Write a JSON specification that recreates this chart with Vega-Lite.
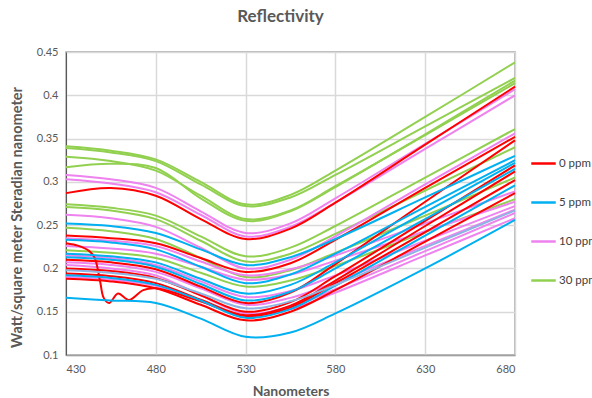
{
"$schema": "https://vega.github.io/schema/vega-lite/v6.json",
"width": 449, "height": 303,
"autosize": "none",
"padding": {"left": 66, "top": 52, "right": 77, "bottom": 43},
"background": "white",
"config": {"font": "Lato", "view": {"stroke": "#a0a0a0", "strokeWidth": 1.5}},
"title": {"text": "Reflectivity", "fontSize": 17, "fontWeight": "bold", "color": "#595959", "offset": 20, "dx": -10},
"data": {"values": [
{"s":"G1","c":"30 ppm","x":430,"y":0.341},{"s":"G1","c":"30 ppm","x":455,"y":0.336},{"s":"G1","c":"30 ppm","x":480,"y":0.326},{"s":"G1","c":"30 ppm","x":505,"y":0.300},{"s":"G1","c":"30 ppm","x":530,"y":0.274},{"s":"G1","c":"30 ppm","x":555,"y":0.285},{"s":"G1","c":"30 ppm","x":580,"y":0.313},{"s":"G1","c":"30 ppm","x":630,"y":0.375},{"s":"G1","c":"30 ppm","x":680,"y":0.438},
{"s":"G2","c":"30 ppm","x":430,"y":0.339},{"s":"G2","c":"30 ppm","x":455,"y":0.334},{"s":"G2","c":"30 ppm","x":480,"y":0.324},{"s":"G2","c":"30 ppm","x":505,"y":0.297},{"s":"G2","c":"30 ppm","x":530,"y":0.272},{"s":"G2","c":"30 ppm","x":555,"y":0.282},{"s":"G2","c":"30 ppm","x":580,"y":0.308},{"s":"G2","c":"30 ppm","x":630,"y":0.364},{"s":"G2","c":"30 ppm","x":680,"y":0.420},
{"s":"G3","c":"30 ppm","x":430,"y":0.329},{"s":"G3","c":"30 ppm","x":455,"y":0.324},{"s":"G3","c":"30 ppm","x":480,"y":0.313},{"s":"G3","c":"30 ppm","x":505,"y":0.284},{"s":"G3","c":"30 ppm","x":530,"y":0.257},{"s":"G3","c":"30 ppm","x":555,"y":0.267},{"s":"G3","c":"30 ppm","x":580,"y":0.295},{"s":"G3","c":"30 ppm","x":630,"y":0.354},{"s":"G3","c":"30 ppm","x":680,"y":0.414},
{"s":"G4","c":"30 ppm","x":430,"y":0.317},{"s":"G4","c":"30 ppm","x":455,"y":0.321},{"s":"G4","c":"30 ppm","x":480,"y":0.316},{"s":"G4","c":"30 ppm","x":505,"y":0.281},{"s":"G4","c":"30 ppm","x":530,"y":0.255},{"s":"G4","c":"30 ppm","x":555,"y":0.266},{"s":"G4","c":"30 ppm","x":580,"y":0.294},{"s":"G4","c":"30 ppm","x":630,"y":0.355},{"s":"G4","c":"30 ppm","x":680,"y":0.417},
{"s":"G5","c":"30 ppm","x":430,"y":0.274},{"s":"G5","c":"30 ppm","x":455,"y":0.270},{"s":"G5","c":"30 ppm","x":480,"y":0.261},{"s":"G5","c":"30 ppm","x":505,"y":0.237},{"s":"G5","c":"30 ppm","x":530,"y":0.214},{"s":"G5","c":"30 ppm","x":555,"y":0.224},{"s":"G5","c":"30 ppm","x":580,"y":0.249},{"s":"G5","c":"30 ppm","x":630,"y":0.305},{"s":"G5","c":"30 ppm","x":680,"y":0.361},
{"s":"G6","c":"30 ppm","x":430,"y":0.271},{"s":"G6","c":"30 ppm","x":455,"y":0.267},{"s":"G6","c":"30 ppm","x":480,"y":0.257},{"s":"G6","c":"30 ppm","x":505,"y":0.232},{"s":"G6","c":"30 ppm","x":530,"y":0.208},{"s":"G6","c":"30 ppm","x":555,"y":0.217},{"s":"G6","c":"30 ppm","x":580,"y":0.240},{"s":"G6","c":"30 ppm","x":630,"y":0.290},{"s":"G6","c":"30 ppm","x":680,"y":0.340},
{"s":"G7","c":"30 ppm","x":430,"y":0.247},{"s":"G7","c":"30 ppm","x":455,"y":0.243},{"s":"G7","c":"30 ppm","x":480,"y":0.234},{"s":"G7","c":"30 ppm","x":505,"y":0.212},{"s":"G7","c":"30 ppm","x":530,"y":0.190},{"s":"G7","c":"30 ppm","x":555,"y":0.198},{"s":"G7","c":"30 ppm","x":580,"y":0.218},{"s":"G7","c":"30 ppm","x":630,"y":0.261},{"s":"G7","c":"30 ppm","x":680,"y":0.305},
{"s":"G8","c":"30 ppm","x":430,"y":0.221},{"s":"G8","c":"30 ppm","x":455,"y":0.218},{"s":"G8","c":"30 ppm","x":480,"y":0.212},{"s":"G8","c":"30 ppm","x":505,"y":0.195},{"s":"G8","c":"30 ppm","x":530,"y":0.179},{"s":"G8","c":"30 ppm","x":555,"y":0.186},{"s":"G8","c":"30 ppm","x":580,"y":0.203},{"s":"G8","c":"30 ppm","x":630,"y":0.242},{"s":"G8","c":"30 ppm","x":680,"y":0.280},
{"s":"P1","c":"10 ppm","x":430,"y":0.308},{"s":"P1","c":"10 ppm","x":455,"y":0.303},{"s":"P1","c":"10 ppm","x":480,"y":0.293},{"s":"P1","c":"10 ppm","x":505,"y":0.266},{"s":"P1","c":"10 ppm","x":530,"y":0.241},{"s":"P1","c":"10 ppm","x":555,"y":0.252},{"s":"P1","c":"10 ppm","x":580,"y":0.281},{"s":"P1","c":"10 ppm","x":630,"y":0.344},{"s":"P1","c":"10 ppm","x":680,"y":0.407},
{"s":"P2","c":"10 ppm","x":430,"y":0.303},{"s":"P2","c":"10 ppm","x":455,"y":0.298},{"s":"P2","c":"10 ppm","x":480,"y":0.288},{"s":"P2","c":"10 ppm","x":505,"y":0.262},{"s":"P2","c":"10 ppm","x":530,"y":0.237},{"s":"P2","c":"10 ppm","x":555,"y":0.248},{"s":"P2","c":"10 ppm","x":580,"y":0.276},{"s":"P2","c":"10 ppm","x":630,"y":0.338},{"s":"P2","c":"10 ppm","x":680,"y":0.400},
{"s":"P3","c":"10 ppm","x":430,"y":0.262},{"s":"P3","c":"10 ppm","x":455,"y":0.258},{"s":"P3","c":"10 ppm","x":480,"y":0.248},{"s":"P3","c":"10 ppm","x":505,"y":0.224},{"s":"P3","c":"10 ppm","x":530,"y":0.200},{"s":"P3","c":"10 ppm","x":555,"y":0.210},{"s":"P3","c":"10 ppm","x":580,"y":0.237},{"s":"P3","c":"10 ppm","x":630,"y":0.297},{"s":"P3","c":"10 ppm","x":680,"y":0.356},
{"s":"P4","c":"10 ppm","x":430,"y":0.235},{"s":"P4","c":"10 ppm","x":455,"y":0.232},{"s":"P4","c":"10 ppm","x":480,"y":0.226},{"s":"P4","c":"10 ppm","x":505,"y":0.208},{"s":"P4","c":"10 ppm","x":530,"y":0.192},{"s":"P4","c":"10 ppm","x":555,"y":0.199},{"s":"P4","c":"10 ppm","x":580,"y":0.215},{"s":"P4","c":"10 ppm","x":630,"y":0.252},{"s":"P4","c":"10 ppm","x":680,"y":0.289},
{"s":"P5","c":"10 ppm","x":430,"y":0.226},{"s":"P5","c":"10 ppm","x":455,"y":0.223},{"s":"P5","c":"10 ppm","x":480,"y":0.217},{"s":"P5","c":"10 ppm","x":505,"y":0.202},{"s":"P5","c":"10 ppm","x":530,"y":0.187},{"s":"P5","c":"10 ppm","x":555,"y":0.193},{"s":"P5","c":"10 ppm","x":580,"y":0.209},{"s":"P5","c":"10 ppm","x":630,"y":0.243},{"s":"P5","c":"10 ppm","x":680,"y":0.277},
{"s":"P6","c":"10 ppm","x":430,"y":0.215},{"s":"P6","c":"10 ppm","x":455,"y":0.212},{"s":"P6","c":"10 ppm","x":480,"y":0.204},{"s":"P6","c":"10 ppm","x":505,"y":0.185},{"s":"P6","c":"10 ppm","x":530,"y":0.167},{"s":"P6","c":"10 ppm","x":555,"y":0.174},{"s":"P6","c":"10 ppm","x":580,"y":0.192},{"s":"P6","c":"10 ppm","x":630,"y":0.232},{"s":"P6","c":"10 ppm","x":680,"y":0.272},
{"s":"P7","c":"10 ppm","x":430,"y":0.207},{"s":"P7","c":"10 ppm","x":455,"y":0.204},{"s":"P7","c":"10 ppm","x":480,"y":0.196},{"s":"P7","c":"10 ppm","x":505,"y":0.177},{"s":"P7","c":"10 ppm","x":530,"y":0.158},{"s":"P7","c":"10 ppm","x":555,"y":0.166},{"s":"P7","c":"10 ppm","x":580,"y":0.184},{"s":"P7","c":"10 ppm","x":630,"y":0.226},{"s":"P7","c":"10 ppm","x":680,"y":0.268},
{"s":"P8","c":"10 ppm","x":430,"y":0.204},{"s":"P8","c":"10 ppm","x":455,"y":0.200},{"s":"P8","c":"10 ppm","x":480,"y":0.192},{"s":"P8","c":"10 ppm","x":505,"y":0.169},{"s":"P8","c":"10 ppm","x":530,"y":0.148},{"s":"P8","c":"10 ppm","x":555,"y":0.156},{"s":"P8","c":"10 ppm","x":580,"y":0.176},{"s":"P8","c":"10 ppm","x":630,"y":0.220},{"s":"P8","c":"10 ppm","x":680,"y":0.264},
{"s":"P9","c":"10 ppm","x":430,"y":0.190},{"s":"P9","c":"10 ppm","x":455,"y":0.187},{"s":"P9","c":"10 ppm","x":480,"y":0.180},{"s":"P9","c":"10 ppm","x":505,"y":0.162},{"s":"P9","c":"10 ppm","x":530,"y":0.145},{"s":"P9","c":"10 ppm","x":555,"y":0.153},{"s":"P9","c":"10 ppm","x":580,"y":0.172},{"s":"P9","c":"10 ppm","x":630,"y":0.215},{"s":"P9","c":"10 ppm","x":680,"y":0.258},
{"s":"R1","c":"0 ppm","x":430,"y":0.287},{"s":"R1","c":"0 ppm","x":455,"y":0.293},{"s":"R1","c":"0 ppm","x":480,"y":0.284},{"s":"R1","c":"0 ppm","x":505,"y":0.257},{"s":"R1","c":"0 ppm","x":530,"y":0.234},{"s":"R1","c":"0 ppm","x":555,"y":0.246},{"s":"R1","c":"0 ppm","x":580,"y":0.276},{"s":"R1","c":"0 ppm","x":630,"y":0.343},{"s":"R1","c":"0 ppm","x":680,"y":0.410},
{"s":"R2","c":"0 ppm","x":430,"y":0.238},{"s":"R2","c":"0 ppm","x":455,"y":0.235},{"s":"R2","c":"0 ppm","x":480,"y":0.229},{"s":"R2","c":"0 ppm","x":505,"y":0.212},{"s":"R2","c":"0 ppm","x":530,"y":0.196},{"s":"R2","c":"0 ppm","x":555,"y":0.206},{"s":"R2","c":"0 ppm","x":580,"y":0.233},{"s":"R2","c":"0 ppm","x":630,"y":0.293},{"s":"R2","c":"0 ppm","x":680,"y":0.352},
{"s":"R3","c":"0 ppm","x":430,"y":0.229},{"s":"R3","c":"0 ppm","x":437,"y":0.226},{"s":"R3","c":"0 ppm","x":443,"y":0.220},{"s":"R3","c":"0 ppm","x":446,"y":0.212},{"s":"R3","c":"0 ppm","x":449,"y":0.185},{"s":"R3","c":"0 ppm","x":451,"y":0.166},{"s":"R3","c":"0 ppm","x":454,"y":0.160},{"s":"R3","c":"0 ppm","x":459,"y":0.171},{"s":"R3","c":"0 ppm","x":465,"y":0.1635},{"s":"R3","c":"0 ppm","x":473,"y":0.175},{"s":"R3","c":"0 ppm","x":480,"y":0.177},{"s":"R3","c":"0 ppm","x":505,"y":0.162},{"s":"R3","c":"0 ppm","x":530,"y":0.145},{"s":"R3","c":"0 ppm","x":555,"y":0.155},{"s":"R3","c":"0 ppm","x":580,"y":0.183},{"s":"R3","c":"0 ppm","x":630,"y":0.242},{"s":"R3","c":"0 ppm","x":680,"y":0.302},
{"s":"R4","c":"0 ppm","x":430,"y":0.210},{"s":"R4","c":"0 ppm","x":455,"y":0.207},{"s":"R4","c":"0 ppm","x":480,"y":0.199},{"s":"R4","c":"0 ppm","x":505,"y":0.179},{"s":"R4","c":"0 ppm","x":530,"y":0.160},{"s":"R4","c":"0 ppm","x":555,"y":0.172},{"s":"R4","c":"0 ppm","x":580,"y":0.205},{"s":"R4","c":"0 ppm","x":630,"y":0.277},{"s":"R4","c":"0 ppm","x":680,"y":0.348},
{"s":"R5","c":"0 ppm","x":430,"y":0.200},{"s":"R5","c":"0 ppm","x":455,"y":0.197},{"s":"R5","c":"0 ppm","x":480,"y":0.189},{"s":"R5","c":"0 ppm","x":505,"y":0.169},{"s":"R5","c":"0 ppm","x":530,"y":0.150},{"s":"R5","c":"0 ppm","x":555,"y":0.161},{"s":"R5","c":"0 ppm","x":580,"y":0.191},{"s":"R5","c":"0 ppm","x":630,"y":0.255},{"s":"R5","c":"0 ppm","x":680,"y":0.319},
{"s":"R6","c":"0 ppm","x":430,"y":0.194},{"s":"R6","c":"0 ppm","x":455,"y":0.191},{"s":"R6","c":"0 ppm","x":480,"y":0.183},{"s":"R6","c":"0 ppm","x":505,"y":0.164},{"s":"R6","c":"0 ppm","x":530,"y":0.146},{"s":"R6","c":"0 ppm","x":555,"y":0.157},{"s":"R6","c":"0 ppm","x":580,"y":0.186},{"s":"R6","c":"0 ppm","x":630,"y":0.249},{"s":"R6","c":"0 ppm","x":680,"y":0.312},
{"s":"R7","c":"0 ppm","x":430,"y":0.188},{"s":"R7","c":"0 ppm","x":455,"y":0.185},{"s":"R7","c":"0 ppm","x":480,"y":0.177},{"s":"R7","c":"0 ppm","x":505,"y":0.158},{"s":"R7","c":"0 ppm","x":530,"y":0.140},{"s":"R7","c":"0 ppm","x":555,"y":0.150},{"s":"R7","c":"0 ppm","x":580,"y":0.175},{"s":"R7","c":"0 ppm","x":630,"y":0.231},{"s":"R7","c":"0 ppm","x":680,"y":0.287},
{"s":"B1","c":"5 ppm","x":430,"y":0.252},{"s":"B1","c":"5 ppm","x":455,"y":0.249},{"s":"B1","c":"5 ppm","x":480,"y":0.241},{"s":"B1","c":"5 ppm","x":505,"y":0.222},{"s":"B1","c":"5 ppm","x":530,"y":0.204},{"s":"B1","c":"5 ppm","x":555,"y":0.213},{"s":"B1","c":"5 ppm","x":580,"y":0.234},{"s":"B1","c":"5 ppm","x":630,"y":0.282},{"s":"B1","c":"5 ppm","x":680,"y":0.330},
{"s":"B2","c":"5 ppm","x":430,"y":0.233},{"s":"B2","c":"5 ppm","x":455,"y":0.230},{"s":"B2","c":"5 ppm","x":480,"y":0.222},{"s":"B2","c":"5 ppm","x":505,"y":0.202},{"s":"B2","c":"5 ppm","x":530,"y":0.183},{"s":"B2","c":"5 ppm","x":555,"y":0.193},{"s":"B2","c":"5 ppm","x":580,"y":0.217},{"s":"B2","c":"5 ppm","x":630,"y":0.271},{"s":"B2","c":"5 ppm","x":680,"y":0.325},
{"s":"B3","c":"5 ppm","x":430,"y":0.217},{"s":"B3","c":"5 ppm","x":455,"y":0.214},{"s":"B3","c":"5 ppm","x":480,"y":0.207},{"s":"B3","c":"5 ppm","x":505,"y":0.188},{"s":"B3","c":"5 ppm","x":530,"y":0.171},{"s":"B3","c":"5 ppm","x":555,"y":0.181},{"s":"B3","c":"5 ppm","x":580,"y":0.207},{"s":"B3","c":"5 ppm","x":630,"y":0.265},{"s":"B3","c":"5 ppm","x":680,"y":0.322},
{"s":"B4","c":"5 ppm","x":430,"y":0.213},{"s":"B4","c":"5 ppm","x":455,"y":0.210},{"s":"B4","c":"5 ppm","x":480,"y":0.202},{"s":"B4","c":"5 ppm","x":505,"y":0.182},{"s":"B4","c":"5 ppm","x":530,"y":0.163},{"s":"B4","c":"5 ppm","x":555,"y":0.173},{"s":"B4","c":"5 ppm","x":580,"y":0.200},{"s":"B4","c":"5 ppm","x":630,"y":0.257},{"s":"B4","c":"5 ppm","x":680,"y":0.315},
{"s":"B5","c":"5 ppm","x":430,"y":0.192},{"s":"B5","c":"5 ppm","x":455,"y":0.189},{"s":"B5","c":"5 ppm","x":480,"y":0.181},{"s":"B5","c":"5 ppm","x":505,"y":0.163},{"s":"B5","c":"5 ppm","x":530,"y":0.143},{"s":"B5","c":"5 ppm","x":555,"y":0.153},{"s":"B5","c":"5 ppm","x":580,"y":0.180},{"s":"B5","c":"5 ppm","x":630,"y":0.238},{"s":"B5","c":"5 ppm","x":680,"y":0.296},
{"s":"B6","c":"5 ppm","x":430,"y":0.166},{"s":"B6","c":"5 ppm","x":455,"y":0.163},{"s":"B6","c":"5 ppm","x":480,"y":0.160},{"s":"B6","c":"5 ppm","x":505,"y":0.142},{"s":"B6","c":"5 ppm","x":530,"y":0.121},{"s":"B6","c":"5 ppm","x":555,"y":0.126},{"s":"B6","c":"5 ppm","x":580,"y":0.148},{"s":"B6","c":"5 ppm","x":630,"y":0.200},{"s":"B6","c":"5 ppm","x":680,"y":0.256},
{"s":"X1","c":"other","x":430,"y":0.198},{"s":"X1","c":"other","x":455,"y":0.195},{"s":"X1","c":"other","x":480,"y":0.188},{"s":"X1","c":"other","x":505,"y":0.171},{"s":"X1","c":"other","x":530,"y":0.154},{"s":"X1","c":"other","x":555,"y":0.162},{"s":"X1","c":"other","x":580,"y":0.181},{"s":"X1","c":"other","x":630,"y":0.224},{"s":"X1","c":"other","x":680,"y":0.267}
]},
"mark": {"type": "line", "interpolate": "catmull-rom", "strokeWidth": 2},
"encoding": {
  "x": {"field": "x", "type": "quantitative", "scale": {"domain": [430, 680], "nice": false, "zero": false},
        "axis": {"values": [430, 480, 530, 580, 630, 680], "title": "Nanometers", "grid": true, "gridColor": "#d9d9d9", "gridWidth": 1.5, "ticks": false, "domain": true, "domainColor": "#a0a0a0", "domainWidth": 1.5, "labelColor": "#595959", "labelFontSize": 11, "labelPadding": 8, "titleFontSize": 14, "titleFontWeight": "bold", "titleColor": "#595959", "titlePadding": 10}},
  "y": {"field": "y", "type": "quantitative", "scale": {"domain": [0.1, 0.45], "nice": false, "zero": false},
        "axis": {"values": [0.1, 0.15, 0.2, 0.25, 0.3, 0.35, 0.4, 0.45], "format": "~g", "title": "Watt/square meter Steradian nanometer", "grid": true, "gridColor": "#d9d9d9", "gridWidth": 1.5, "ticks": false, "domain": true, "domainColor": "#595959", "domainWidth": 1, "labelColor": "#595959", "labelFontSize": 11, "labelPadding": 8, "titleFontSize": 14.5, "titleFontWeight": "bold", "titleColor": "#595959", "titlePadding": 12, "titleY": 165}},
  "color": {"field": "c", "type": "nominal",
            "scale": {"domain": ["0 ppm", "5 ppm", "10 ppm", "30 ppm", "other"], "range": ["#FF0000", "#00B0F0", "#EE82EE", "#92D050", "#8DB4E2"]},
            "legend": {"values": ["0 ppm", "5 ppm", "10 ppm", "30 ppm"], "title": null, "orient": "none", "legendX": 464, "legendY": 98, "symbolType": "stroke", "symbolStrokeWidth": 2.5, "symbolSize": 600, "labelFontSize": 11.5, "labelColor": "#404040", "labelOffset": 2, "rowPadding": 20}},
  "detail": {"field": "s"}
}
}
